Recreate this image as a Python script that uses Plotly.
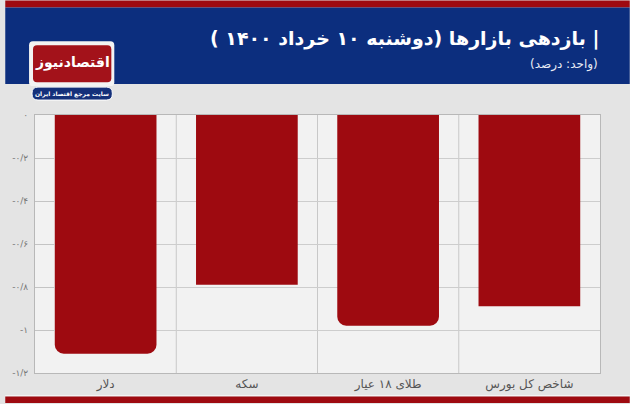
import plotly.graph_objects as go

# ---------------- data ----------------
categories = ["دلار", "سکه", "طلای ۱۸ عیار", "شاخص کل بورس"]
returns = [-1.11, -0.79, -0.98, -0.89]
rounded = [True, False, True, False]
ytick_vals = [0, -0.2, -0.4, -0.6, -0.8, -1.0, -1.2]
ytick_text = ["۰", "-۰/۲", "-۰/۴", "-۰/۶", "-۰/۸", "-۱", "-۱/۲"]
title_text = "| بازدهی بازارها (دوشنبه ۱۰ خرداد ۱۴۰۰ )"
subtitle_text = "(واحد: درصد)"
logo_text = "اقتصادنیوز"
logo_sub = "سایت مرجع اقتصاد ایران"

W, H = 630, 404
ML, MR, MT, MB = 30, 30, 115, 30
PW, PH = W - ML - MR, H - MT - MB

def px(x):
    return (x - ML) / PW

def py(y):
    return (H - MB - y) / PH

def rtl(s):
    return "\u202B" + s + "\u202C"

def rrect(x0, y0, x1, y1, r):
    rx, ry = r / PW, r / PH
    X0, X1 = px(x0), px(x1)
    Y0, Y1 = py(y0), py(y1)  # Y0 top (larger)
    return (f"M {X0+rx},{Y0} L {X1-rx},{Y0} Q {X1},{Y0} {X1},{Y0-ry} "
            f"L {X1},{Y1+ry} Q {X1},{Y1} {X1-rx},{Y1} L {X0+rx},{Y1} "
            f"Q {X0},{Y1} {X0},{Y1+ry} L {X0},{Y0-ry} Q {X0},{Y0} {X0+rx},{Y0} Z")

RED = "#9e0a10"
BLUE = "#0c2e7e"

fig = go.Figure()
y_round = [v if r else None for v, r in zip(returns, rounded)]
y_square = [None if r else v for v, r in zip(returns, rounded)]
fig.add_trace(go.Bar(x=categories, y=y_round, marker=dict(color=RED, cornerradius=9, line=dict(width=0)),
                     width=0.72, hoverinfo="x+y"))
fig.add_trace(go.Bar(x=categories, y=y_square, marker=dict(color=RED, line=dict(width=0)),
                     width=0.72, hoverinfo="x+y"))

shapes = []
# page decoration
shapes.append(dict(type="rect", xref="paper", yref="paper", x0=px(0), x1=px(W), y0=py(0), y1=py(7),
                   fillcolor=RED, line=dict(width=0), layer="below"))
shapes.append(dict(type="rect", xref="paper", yref="paper", x0=px(0), x1=px(W), y0=py(7), y1=py(84),
                   fillcolor=BLUE, line=dict(width=0), layer="below"))
shapes.append(dict(type="rect", xref="paper", yref="paper", x0=px(0), x1=px(W), y0=py(396), y1=py(397.5),
                   fillcolor="#f4f4f4", line=dict(width=0), layer="below"))
shapes.append(dict(type="rect", xref="paper", yref="paper", x0=px(0), x1=px(W), y0=py(397.5), y1=py(H),
                   fillcolor=RED, line=dict(width=0), layer="below"))
# logo
shapes.append(dict(type="path", xref="paper", yref="paper", path=rrect(24, 41, 110, 86, 4),
                   fillcolor="#f3f3f3", line=dict(width=0), layer="below"))
shapes.append(dict(type="path", xref="paper", yref="paper", path=rrect(28, 45, 107, 82, 4),
                   fillcolor="#a3121a", line=dict(width=0), layer="below"))
shapes.append(dict(type="path", xref="paper", yref="paper", path=rrect(27, 87, 108, 100, 6),
                   fillcolor="#14307a", line=dict(color="#ffffff", width=1), layer="below"))
# vertical category separators
for i in range(len(categories) - 1):
    shapes.append(dict(type="line", xref="x", yref="paper", x0=i + 0.5, x1=i + 0.5, y0=0, y1=1,
                       line=dict(color="#c8c8c8", width=1), layer="below"))

annotations = [
    dict(text=rtl(title_text), x=px(601), y=py(38), xref="paper", yref="paper", xanchor="right",
         yanchor="middle", showarrow=False, font=dict(family="DejaVu Sans", size=19, color="#ffffff", weight="bold")),
    dict(text=rtl(subtitle_text), x=px(600), y=py(64), xref="paper", yref="paper", xanchor="right",
         yanchor="middle", showarrow=False, font=dict(family="DejaVu Sans", size=12, color="#e8ecf5")),
    dict(text=logo_text, x=px(67.5), y=py(62), xref="paper", yref="paper", xanchor="center",
         yanchor="middle", showarrow=False, font=dict(family="DejaVu Sans", size=14, color="#ffffff", weight="bold")),
    dict(text=logo_sub, x=px(67.5), y=py(93.5), xref="paper", yref="paper", xanchor="center",
         yanchor="middle", showarrow=False, font=dict(family="DejaVu Sans", size=6, color="#ffffff", weight="bold")),
]

fig.update_layout(
    width=W, height=H,
    margin=dict(l=ML, r=MR, t=MT, b=MB, pad=0),
    paper_bgcolor="#e4e4e4",
    plot_bgcolor="#f2f2f2",
    barmode="overlay",
    showlegend=False,
    shapes=shapes,
    annotations=annotations,
    font=dict(family="DejaVu Sans", color="#555555"),
    xaxis=dict(type="category", categoryorder="array", categoryarray=categories,
               showgrid=False, showline=True, linecolor="#b8b8b8", linewidth=1, mirror=True,
               ticks="", tickfont=dict(size=12, color="#555555"), fixedrange=True),
    yaxis=dict(range=[-1.2, 0], tickvals=ytick_vals, ticktext=ytick_text,
               showgrid=True, gridcolor="#cdcdcd", gridwidth=1, zeroline=False,
               showline=True, linecolor="#b8b8b8", linewidth=1, mirror=True,
               ticks="inside", ticklen=20, tickcolor="#c4c4c4",
               tickfont=dict(size=9, color="#777777"), ticklabelstandoff=4, fixedrange=True),
)

fig.write_html("out.html", config={"displayModeBar": False},
               post_script="document.body.style.margin='0';document.body.style.overflow='hidden';")
